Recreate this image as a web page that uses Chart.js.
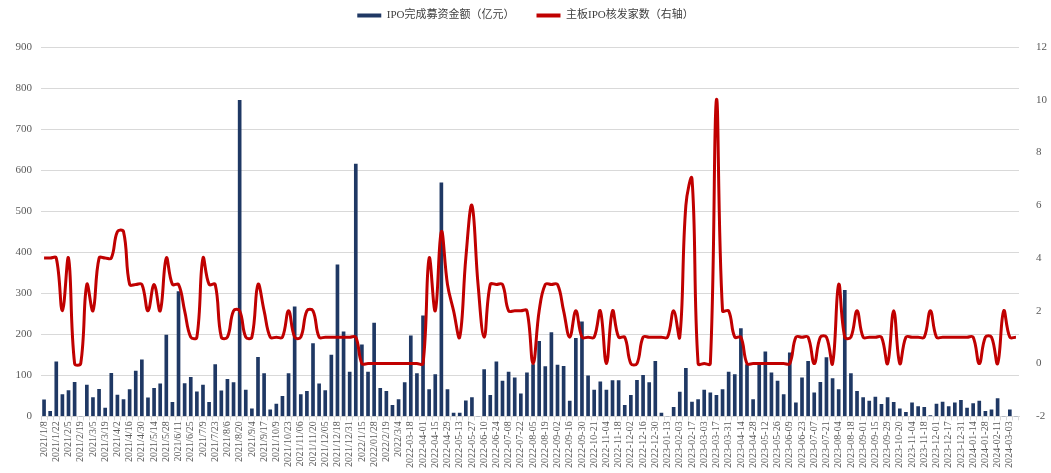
<!DOCTYPE html>
<html>
<head>
<meta charset="utf-8">
<script src="https://cdn.jsdelivr.net/npm/chart.js@4"></script>
<style>
  body { margin: 0; background: #fff; }
  #wrap { width: 1051px; height: 473px; position: relative; }
</style>
</head>
<body>
<div id="wrap"><canvas id="chart"></canvas></div>
<script>
// weekly categories (every other one is shown on the axis)
const weeks = [
  "2021/1/8","2021/1/15","2021/1/22","2021/1/29","2021/2/5","2021/2/12","2021/2/19","2021/2/26",
  "2021/3/5","2021/3/12","2021/3/19","2021/3/26","2021/4/2","2021/4/9","2021/4/16","2021/4/23",
  "2021/4/30","2021/5/7","2021/5/14","2021/5/21","2021/5/28","2021/6/4","2021/6/11","2021/6/18",
  "2021/6/25","2021/7/2","2021/7/9","2021/7/16","2021/7/23","2021/7/30","2021/8/6","2021/8/13",
  "2021/8/20","2021/8/27","2021/9/4","2021/9/10","2021/9/17","2021/9/30","2021/10/9","2021/10/15",
  "2021/10/23","2021/10/29","2021/11/06","2021/11/12","2021/11/20","2021/11/26","2021/12/05","2021/12/10",
  "2021/12/18","2021/12/24","2021/12/31","2022/1/7","2022/1/15","2022/1/21","2022/01/28","2022/2/11",
  "2022/2/19","2022/2/25","2022/3/4","2022/3/11","2022-03-18","2022-03-25","2022-04-01","2022-04-08",
  "2022-04-15","2022-04-22","2022-04-29","2022-05-06","2022-05-13","2022-05-20","2022-05-27","2022-06-02",
  "2022-06-10","2022-06-17","2022-06-24","2022-07-01","2022-07-08","2022-07-15","2022-07-22","2022-07-29",
  "2022-08-05","2022-08-12","2022-08-19","2022-08-26","2022-09-02","2022-09-09","2022-09-16","2022-09-23",
  "2022-09-30","2022-10-14","2022-10-21","2022-10-28","2022-11-04","2022-11-11","2022-11-18","2022-11-25",
  "2022-12-02","2022-12-09","2022-12-16","2022-12-23","2022-12-30","2023-01-06","2023-01-13","2023-01-20",
  "2023-02-03","2023-02-10","2023-02-17","2023-02-24","2023-03-03","2023-03-10","2023-03-17","2023-03-24",
  "2023-03-31","2023-04-07","2023-04-14","2023-04-21","2023-04-28","2023-05-05","2023-05-12","2023-05-19",
  "2023-05-26","2023-06-02","2023-06-09","2023-06-16","2023-06-23","2023-06-30","2023-07-07","2023-07-14",
  "2023-07-21","2023-07-28","2023-08-04","2023-08-11","2023-08-18","2023-08-25","2023-09-01","2023-09-08",
  "2023-09-15","2023-09-22","2023-09-29","2023-10-13","2023-10-20","2023-10-27","2023-11-04","2023-11-10",
  "2023-11-18","2023-11-24","2023-12-01","2023-12-08","2023-12-17","2023-12-22","2023-12-31","2024-01-05",
  "2024-01-14","2024-01-19","2024-01-28","2024-02-02","2024-02-11","2024-02-18","2024-03-03","2024-03-08"
];

// IPO完成募资金额（亿元）
const ipoAmount = [
  40, 12, 133, 53, 63, 83, 0, 76, 46, 66, 20, 105, 52, 41, 65, 110,
  138, 45, 68, 79, 198, 34, 304, 80, 95, 60, 76, 34, 126, 62, 90, 82,
  770, 64, 18, 144, 104, 16, 30, 49, 104, 267, 53, 61, 177, 79, 63, 149,
  369, 206, 108, 615, 174, 108, 227, 68, 61, 27, 41, 82, 196, 104, 245, 65,
  102, 569, 65, 8, 8, 38, 46, 0, 114, 51, 133, 86, 108, 94, 55, 106,
  126, 183, 121, 204, 125, 122, 37, 190, 230, 99, 64, 84, 64, 87, 87, 27,
  51, 88, 100, 82, 134, 8, 0, 22, 59, 117, 35, 41, 64, 57, 51, 65,
  108, 102, 214, 126, 41, 126, 157, 106, 86, 53, 155, 33, 94, 134, 57, 83,
  143, 92, 65, 307, 104, 61, 46, 37, 47, 29, 46, 34, 18, 10, 33, 24,
  22, 2, 30, 35, 24, 33, 39, 20, 31, 37, 12, 16, 43, 0, 16, 0
];

// 主板IPO核发家数（右轴）
const approvals = [
  4, 4, 4, 2, 4, 0, 0, 3, 2, 4, 4, 4, 5, 5, 3, 3,
  3, 2, 3, 2, 4, 3, 3, 2, 1, 1, 4, 3, 3, 1, 1, 2,
  2, 1, 1, 3, 2, 1, 1, 1, 2, 1, 1, 2, 2, 1, 1, 1,
  1, 1, 1, 1, 0, 0, 0, 0, 0, 0, 0, 0, 0, 0, 0, 4,
  2, 5, 3, 2, 1, 4, 6, 3, 1, 3, 3, 3, 2, 2, 2, 2,
  0, 2, 3, 3, 3, 2, 1, 2, 1, 1, 1, 2, 0, 2, 1, 1,
  0, 0, 1, 1, 1, 1, 1, 2, 1, 6, 7, 0, 0, 0, 10, 2,
  2, 1, 1, 0, 0, 0, 0, 0, 0, 0, 0, 1, 1, 1, 0, 1,
  1, 0, 3, 1, 1, 2, 1, 1, 1, 1, 0, 2, 0, 1, 1, 1,
  1, 2, 1, 1, 1, 1, 1, 1, 1, 0, 1, 1, 0, 2, 1, 1
];

const leftTicks = { min: 0, max: 900, step: 100 };
const rightTicks = { min: -2, max: 12, step: 2 };

const tickFont = { family: "'Liberation Serif', 'Noto Sans CJK SC', serif", size: 11 };

// extra room between legend and plot
const legendGap = {
  id: "legendGap",
  beforeLayout(chart) {
    const lg = chart.legend;
    if (!lg || lg._gapPatched) return;
    const fit = lg.fit;
    lg.fit = function () {
      fit.call(this);
      this.height += 16;
    };
    lg._gapPatched = true;
  },
};

const ctx = document.getElementById("chart").getContext("2d");
new Chart(ctx, {
  data: {
    labels: weeks,
    datasets: [
      {
        type: "line",
        label: "主板IPO核发家数（右轴）",
        data: approvals,
        yAxisID: "y1",
        borderColor: "#C00000",
        backgroundColor: "#C00000",
        borderWidth: 3,
        pointRadius: 0,
        tension: 0.4,
      },
      {
        type: "bar",
        label: "IPO完成募资金额（亿元）",
        data: ipoAmount,
        yAxisID: "y",
        backgroundColor: "#1F3864",
        barThickness: 3,
      },
    ],
  },
  options: {
    responsive: true,
    maintainAspectRatio: false,
    animation: false,
    layout: { padding: { left: 0, right: 0, top: -12, bottom: 4 } },
    scales: {
      x: {
        offset: true,
        grid: { display: true, drawOnChartArea: false, drawTicks: true, tickLength: 4, color: "#D9D9D9" },
        border: { color: "#D9D9D9" },
        ticks: {
          autoSkip: false,
          maxRotation: 90,
          minRotation: 90,
          padding: 1,
          color: "#595959",
          font: { family: "'Liberation Serif', serif", size: 10 },
          callback: (v, i) => (i % 2 === 0 ? weeks[i] : ""),
        },
      },
      y: {
        position: "left",
        min: leftTicks.min,
        max: leftTicks.max,
        grid: { color: "#D9D9D9", drawTicks: false },
        border: { display: false },
        ticks: { stepSize: leftTicks.step, padding: 9, color: "#595959", font: tickFont },
        afterFit: (scale) => { scale.width = 41; },
      },
      y1: {
        position: "right",
        min: rightTicks.min,
        max: rightTicks.max,
        grid: { display: false },
        border: { display: false },
        ticks: { stepSize: rightTicks.step, padding: 9, color: "#595959", font: tickFont },
        afterFit: (scale) => { scale.width = 32; },
      },
    },
    plugins: {
      legend: {
        display: true,
        position: "top",
        reverse: true,
        labels: {
          boxWidth: 24,
          boxHeight: 4,
          padding: 22,
          color: "#404040",
          font: { family: "'Liberation Serif', 'Noto Sans CJK SC', serif", size: 11 },
          generateLabels: (chart) =>
            Chart.defaults.plugins.legend.labels.generateLabels(chart).map((l) => ({ ...l, lineWidth: 0 })),
        },
      },
      tooltip: { enabled: false },
    },
  },
  plugins: [legendGap],
});
</script>
</body>
</html>
